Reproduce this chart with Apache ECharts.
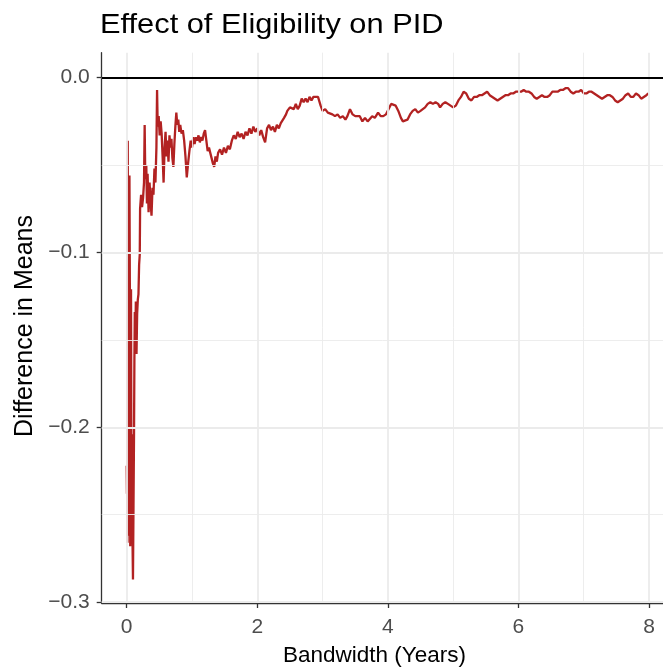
<!DOCTYPE html>
<html>
<head>
<meta charset="utf-8">
<script src="https://cdn.jsdelivr.net/npm/echarts@6/dist/echarts.min.js"></script>
<style>html,body{margin:0;padding:0;background:#fff}#c{width:663px;height:670px}</style>
</head>
<body>
<div id="c"></div>
<script>
// ---- data ----
var bandwidth = [0.000,0.004,0.008,0.012,0.016,0.021,0.026,0.031,0.036,0.042,0.048,0.054,0.060,0.066,0.072,0.080,0.088,0.096,0.104,0.112,0.118,0.124,0.132,0.140,0.150,0.160,0.170,0.180,0.190,0.200,
0.205,0.22,0.235,0.25,0.265,0.275,0.285,0.30,0.31,0.32,0.335,0.35,0.365,0.38,0.395,0.41,0.425,0.44,0.455,0.465,0.475,0.49,0.505,0.52,0.535,0.55,0.565,0.58,0.595,0.61,0.625,0.64,0.655,0.67,0.685,0.70,0.715,0.73,0.745,0.76,0.775,0.79,0.805,0.82,0.84,0.86,0.88,0.90,0.92,0.94,0.96,0.98,
1.00,1.02,1.04,1.06,1.08,1.10,1.12,1.14,1.16,1.18,1.20,1.22,1.24,1.26,1.28,1.30,1.32,1.34,1.36,1.38,1.40,1.43,1.46,1.49,1.52,1.55,1.58,1.61,1.64,1.67,1.70,1.73,1.76,1.79,1.82,1.85,1.88,1.91,1.94,1.97,
2.00,2.03,2.06,2.09,2.12,2.15,2.18,2.21,2.24,2.27,2.30,2.33,2.36,2.39,2.41,2.44,2.46,2.48,2.50,2.53,2.56,2.59,2.62,2.65,2.68,2.71,2.74,2.77,2.80,2.83,2.86,2.89,2.93,2.97,
3.00,3.04,3.08,3.11,3.15,3.19,3.23,3.27,3.31,3.35,3.38,3.42,3.46,3.50,3.53,3.57,3.61,3.65,3.69,3.72,3.76,3.80,3.85,3.89,3.93,3.97,
4.01,4.05,4.08,4.12,4.16,4.20,4.23,4.26,4.30,4.34,4.38,4.42,4.46,4.50,4.53,4.57,4.61,4.65,4.69,4.73,4.77,4.80,4.84,4.88,4.92,4.96,
5.00,5.04,5.08,5.12,5.16,5.20,5.24,5.28,5.32,5.36,5.40,5.44,5.48,5.52,5.56,5.60,5.64,5.68,5.72,5.76,5.80,5.84,5.88,5.92,5.96,
6.00,6.04,6.08,6.12,6.16,6.20,6.24,6.28,6.32,6.36,6.40,6.44,6.48,6.52,6.56,6.60,6.64,6.68,6.72,6.76,6.80,6.84,6.88,6.92,6.96,
7.00,7.04,7.08,7.12,7.16,7.20,7.24,7.28,7.32,7.36,7.40,7.44,7.48,7.52,7.56,7.60,7.64,7.68,7.72,7.76,7.80,7.84,7.88,7.92,7.96,7.99];

var diffMeans = [-0.222,-0.238,-0.225,-0.266,-0.036,-0.140,-0.262,-0.200,-0.150,-0.056,-0.120,-0.268,-0.210,-0.121,-0.240,-0.204,-0.262,-0.287,-0.245,-0.204,-0.160,-0.134,-0.150,-0.128,-0.158,-0.135,-0.127,-0.124,-0.107,-0.101,
-0.075,-0.067,-0.074,-0.069,-0.060,-0.027,-0.058,-0.050,-0.072,-0.055,-0.077,-0.060,-0.070,-0.079,-0.063,-0.067,-0.052,-0.060,-0.040,-0.007,-0.028,-0.022,-0.033,-0.025,-0.032,-0.045,-0.060,-0.040,-0.031,-0.045,-0.036,-0.048,-0.033,-0.040,-0.035,-0.046,-0.051,-0.038,-0.028,-0.020,-0.027,-0.024,-0.031,-0.027,-0.032,-0.030,-0.036,-0.045,-0.057,-0.049,-0.042,-0.036,
-0.040,-0.034,-0.038,-0.034,-0.036,-0.033,-0.037,-0.034,-0.036,-0.032,-0.030,-0.036,-0.042,-0.040,-0.043,-0.046,-0.049,-0.051,-0.045,-0.048,-0.043,-0.041,-0.044,-0.040,-0.043,-0.039,-0.041,-0.036,-0.033,-0.035,-0.031,-0.034,-0.032,-0.035,-0.031,-0.033,-0.029,-0.032,-0.028,-0.031,
-0.029,-0.033,-0.030,-0.034,-0.037,-0.029,-0.027,-0.030,-0.028,-0.031,-0.027,-0.029,-0.026,-0.027,-0.023,-0.021,-0.019,-0.020,-0.017,-0.016,-0.018,-0.015,-0.018,-0.016,-0.012,-0.014,-0.012,-0.014,-0.011,-0.013,-0.011,-0.012,-0.011,-0.016,
-0.019,-0.018,-0.020,-0.019,-0.021,-0.022,-0.021,-0.023,-0.022,-0.024,-0.022,-0.018,-0.021,-0.022,-0.023,-0.022,-0.025,-0.023,-0.025,-0.024,-0.022,-0.023,-0.020,-0.022,-0.022,-0.021,
-0.018,-0.015,-0.014,-0.016,-0.019,-0.023,-0.025,-0.026,-0.024,-0.021,-0.019,-0.018,-0.020,-0.019,-0.020,-0.017,-0.015,-0.014,-0.015,-0.014,-0.015,-0.017,-0.015,-0.014,-0.015,-0.016,
-0.017,-0.016,-0.013,-0.011,-0.008,-0.009,-0.012,-0.013,-0.011,-0.011,-0.010,-0.010,-0.009,-0.008,-0.010,-0.011,-0.012,-0.013,-0.012,-0.011,-0.010,-0.010,-0.009,-0.009,-0.008,
-0.008,-0.008,-0.007,-0.008,-0.008,-0.009,-0.011,-0.012,-0.011,-0.010,-0.011,-0.011,-0.010,-0.008,-0.008,-0.008,-0.007,-0.007,-0.006,-0.006,-0.008,-0.009,-0.008,-0.008,-0.007,
-0.009,-0.009,-0.008,-0.008,-0.009,-0.010,-0.011,-0.012,-0.011,-0.010,-0.010,-0.011,-0.013,-0.014,-0.013,-0.012,-0.010,-0.009,-0.011,-0.011,-0.009,-0.010,-0.012,-0.011,-0.010,-0.009];

var xMajorTicks = [0, 2, 4, 6, 8];
var xMinorTicks = [1, 3, 5, 7];
var yMajorTicks = [-0.3, -0.2, -0.1, 0];
var yMinorTicks = [-0.25, -0.15, -0.05];
var refLine = [0];

var titleText = 'Effect of Eligibility on PID';
var xTitle = 'Bandwidth (Years)';
var yTitle = 'Difference in Means';

// ---- chart ----
var FONT = '"Liberation Sans", Arial, Helvetica, sans-serif';
var chart = echarts.init(document.getElementById('c'), null, {renderer: 'canvas'});
var pairs = bandwidth.map(function (x, i) { return [x, diffMeans[i]]; });
function fmtY(v) {
  if (Math.abs(v) < 1e-9) return '0.0';
  return (v < 0 ? '\u2212' : '') + Math.abs(v).toFixed(1);
}
var option = {
  animation: false,
  backgroundColor: '#ffffff',
  grid: {left: 101.7, top: 52.7, right: 0, height: 550.3, containLabel: false},
  xAxis: {
    type: 'value', min: -0.383, max: 8.214,
    axisLine: {show: true, onZero: false, lineStyle: {color: '#333333', width: 1.3}},
    axisTick: {show: true, customValues: xMajorTicks, length: 5, lineStyle: {color: '#333333', width: 1.3}},
    axisLabel: {customValues: xMajorTicks, color: '#4D4D4D', fontSize: 21, fontFamily: FONT, margin: 14,
      formatter: function (v) { return String(v); }},
    splitLine: {show: false}
  },
  yAxis: {
    type: 'value', min: -0.3005, max: 0.0143,
    axisLine: {show: true, onZero: false, lineStyle: {color: '#333333', width: 1.3}},
    axisTick: {show: true, customValues: yMajorTicks, length: 5, lineStyle: {color: '#333333', width: 1.3}},
    axisLabel: {customValues: yMajorTicks, color: '#4D4D4D', fontSize: 21, fontFamily: FONT, margin: 12,
      formatter: fmtY},
    splitLine: {show: false}
  },
  series: [
    {type: 'line', data: [], z: 1, silent: true,
      markLine: {silent: true, symbol: 'none', label: {show: false}, animation: false,
        lineStyle: {color: '#EBEBEB', width: 0.9, type: 'solid'},
        data: xMinorTicks.map(function (v) { return {xAxis: v}; }).concat(yMinorTicks.map(function (v) { return {yAxis: v}; }))}},
    {type: 'line', data: [], z: 1, silent: true,
      markLine: {silent: true, symbol: 'none', label: {show: false}, animation: false,
        lineStyle: {color: '#EBEBEB', width: 1.8, type: 'solid'},
        data: xMajorTicks.map(function (v) { return {xAxis: v}; }).concat(yMajorTicks.map(function (v) { return {yAxis: v}; }))}},
    {type: 'line', data: pairs, z: 3, showSymbol: false, symbol: 'none',
      lineStyle: {color: '#B22222', width: 2.3}, itemStyle: {color: '#B22222'}},
    {type: 'line', data: [], z: 4, silent: true,
      markLine: {silent: true, symbol: 'none', label: {show: false}, animation: false,
        lineStyle: {color: '#000000', width: 1.8, type: 'solid'},
        data: refLine.map(function (v) { return {yAxis: v}; })}}
  ],
  graphic: [
    {type: 'text', x: 100, y: 11, scaleX: 1.1, style: {text: titleText, fontSize: 28, fontFamily: FONT, fill: '#000000'}},
    {type: 'text', x: 374.5, y: 656, style: {text: xTitle, fontSize: 22.5, fontFamily: FONT, fill: '#000000', align: 'center', verticalAlign: 'middle'}},
    {type: 'text', x: 25, y: 326, rotation: Math.PI / 2, style: {text: yTitle, fontSize: 25, fontFamily: FONT, fill: '#000000', align: 'center', verticalAlign: 'middle'}}
  ]
};
chart.setOption(option);
</script>
</body>
</html>
